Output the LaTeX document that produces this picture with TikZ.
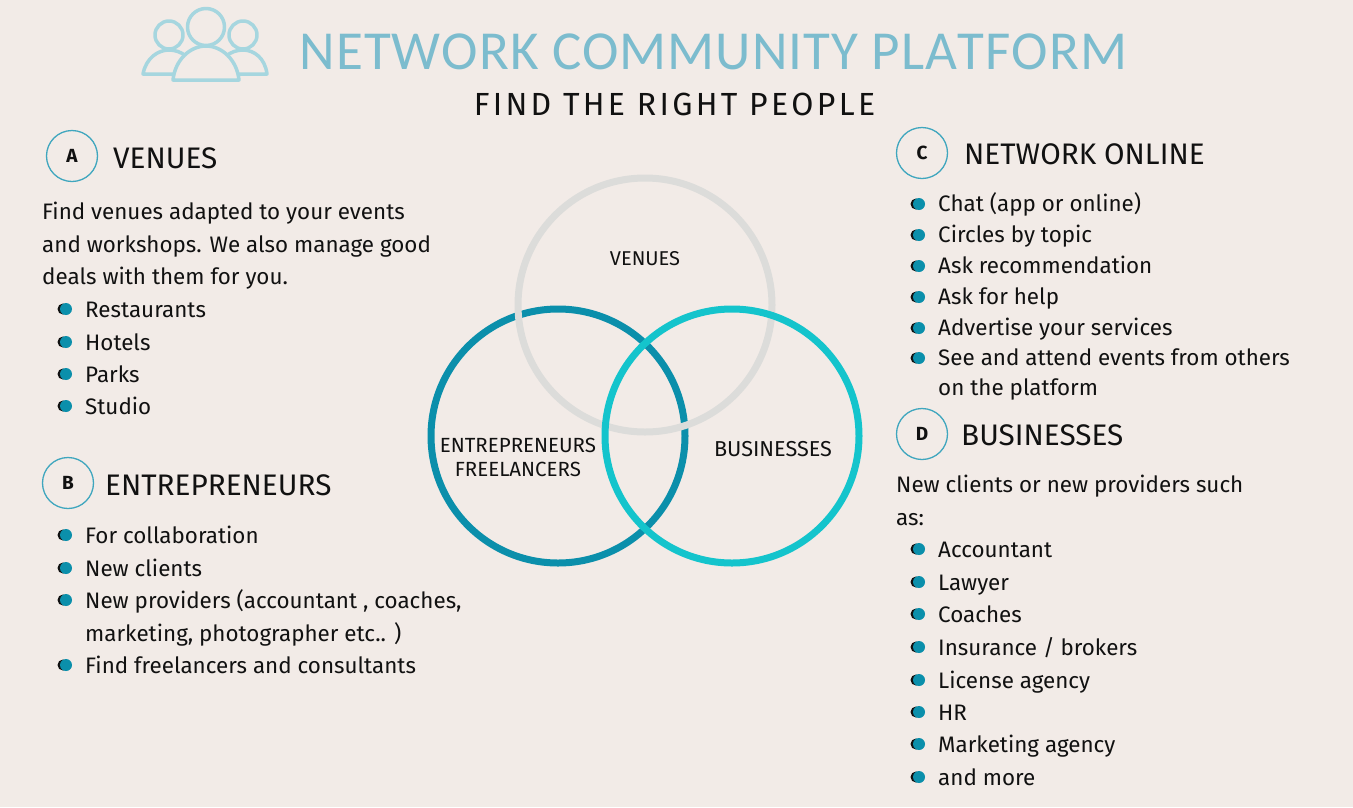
\documentclass[tikz,border=0pt]{standalone}
\usepackage{fontspec}
\setmainfont{Fira Sans}
\newfontfamily\titlefont{Carlito}
\usepackage{xcolor}
\definecolor{paper}{HTML}{F2EBE7}
\definecolor{titleblue}{HTML}{7CBCCE}
\definecolor{iconblue}{HTML}{A6D6DF}
\definecolor{darkteal}{HTML}{0B8FAB}
\definecolor{brightteal}{HTML}{14C4CC}
\definecolor{palegrey}{HTML}{DCDCDA}
\definecolor{badgeblue}{HTML}{3FA6BE}
\definecolor{inkblack}{HTML}{111111}
\tikzset{
  body/.style={anchor=base west, inner sep=0pt, text=inkblack, font=\fontsize{22.4}{23}\selectfont},
  head/.style={anchor=base west, inner sep=0pt, text=inkblack, font=\fontsize{29.7}{30}\selectfont},
  vlabel/.style={align=center, inner sep=0pt, text=inkblack, font=\fontsize{20.5}{24}\selectfont},
  badge/.style={circle, draw=badgeblue, fill=paper, line width=1.3pt, minimum size=51pt, inner sep=0pt, text=inkblack, font=\bfseries\fontsize{19}{19}\selectfont},
  dotfront/.style={circle, fill=darkteal, minimum size=12pt, inner sep=0pt},
  dotback/.style={circle, fill=inkblack, minimum size=11pt, inner sep=0pt},
  ring/.style={circle, line width=7pt, minimum size=254pt, inner sep=0pt},
  icon/.style={draw=iconblue, line width=3.5pt, line join=round}
}
\newcommand{\bulletat}[2]{%
  \node[dotback] (#1b) at (#2) [xshift=-2pt] {};
  \node[dotfront] (#1f) at (#2) [xshift=1pt] {};
}
\begin{document}
\begin{tikzpicture}[x=1pt, y=-1pt]
\useasboundingbox (0,0) rectangle (1353,807);
\fill[paper] (0,0) rectangle (1353,807);
% icon
\draw[icon] (169,35) circle (14);
\draw[icon] (243,35) circle (14);
\draw[icon] (143,74) .. controls (146,58) and (158,50) .. (169,50) .. controls (181,50) and (193,58) .. (196,74) -- cycle;
\draw[icon] (216,74) .. controls (219,58) and (231,50) .. (243,50) .. controls (254,50) and (265,58) .. (267,74) -- cycle;
\draw[icon] (206,27) circle (18.5);
\draw[icon, fill=paper] (173,80) .. controls (175,60) and (190,46) .. (206,46) .. controls (222,46) and (237,60) .. (239,80) -- cycle;
% title
\node[anchor=base, inner sep=0pt, text=titleblue, font=\titlefont\fontsize{55}{55}\selectfont] (title) at (713.5,69) {N\kern1pt E\kern1pt T\kern1pt W\kern1pt O\kern1pt R\kern1pt K\kern1pt\ C\kern1pt O\kern1pt M\kern1pt M\kern1pt U\kern1pt N\kern1pt I\kern1pt T\kern1pt Y\kern1pt\ P\kern1pt L\kern1pt A\kern1pt T\kern1pt F\kern1pt O\kern1pt R\kern1pt M};
\node[anchor=base, inner sep=0pt, text=inkblack, font=\fontsize{32}{32}\selectfont] (subtitle) at (674.5,115) {F\kern3.3pt I\kern3.3pt N\kern3.3pt D\kern3.3pt\ T\kern3.3pt H\kern3.3pt E\kern3.3pt\ R\kern3.3pt I\kern3.3pt G\kern3.3pt H\kern3.3pt T\kern3.3pt\ P\kern3.3pt E\kern3.3pt O\kern3.3pt P\kern3.3pt L\kern3.3pt E};
% venn
\node[ring, draw=darkteal] (entre) at (558,436) {};
\node[ring, draw=palegrey] (venues) at (645,305) {};
\node[ring, draw=brightteal] (biz) at (732,436) {};
\node[vlabel, font=\fontsize{20}{24}\selectfont] (lv) at (645,259) {VENUES};
\node[vlabel] (le) at (518,457) {ENTREPRENEURS\\FREELANCERS};
\node[vlabel, font=\fontsize{21.6}{24}\selectfont] (lb) at (773,449) {BUSINESSES};
% A
\node[badge] (a) at (72,156) {A};
\node[head] (ah) at (113,168) {VENUES};
\node[body] (a1) at (42,219) {Find venues adapted to your events};
\node[body] (a2) at (42,252) {and workshops. We also manage good};
\node[body] (a3) at (42,284) {deals with them for you.};
\foreach \n/\y/\t in {1/317/Restaurants, 2/350/Hotels, 3/382/Parks, 4/414/Studio}{
  \bulletat{ab\n}{65,\y-8}
  \node[body] (at\n) at (85,\y) {\t};
}
% B
\node[badge] (b) at (68,483) {B};
\node[head] (bh) at (105,495) {ENTREPRENEURS};
\foreach \n/\y/\t in {1/543/For collaboration, 2/576/New clients, 3/608/{New providers (accountant , coaches,}, 5/673/Find freelancers and consultants}{
  \bulletat{bb\n}{65,\y-8}
  \node[body] (bt\n) at (85,\y) {\t};
}
\node[body] (bt4) at (85,641) {marketing, photographer etc.. )};
% C
\node[badge] (c) at (922,153) {C};
\node[head] (ch) at (964,164) {NETWORK ONLINE};
\foreach \n/\y/\t in {1/211/Chat (app or online), 2/242/Circles by topic, 3/273/Ask recommendation, 4/304/Ask for help, 5/335/Advertise your services, 6/365/See and attend events from others}{
  \bulletat{cb\n}{918,\y-7}
  \node[body] (ct\n) at (938,\y) {\t};
}
\node[body] (ct7) at (938,395) {on the platform};
% D
\node[badge] (d) at (922,434) {D};
\node[head] (dh) at (961,445) {BUSINESSES};
\node[body] (d1) at (896,492) {New clients or new providers such};
\node[body] (d2) at (896,525) {as:};
\foreach \n/\y/\t in {1/557/Accountant, 2/590/Lawyer, 3/622/Coaches, 4/655/{Insurance / brokers}, 5/688/License agency, 6/720/HR, 7/752/Marketing agency, 8/785/and more}{
  \bulletat{db\n}{918,\y-8}
  \node[body] (dt\n) at (938,\y) {\t};
}
\end{tikzpicture}
\end{document}
